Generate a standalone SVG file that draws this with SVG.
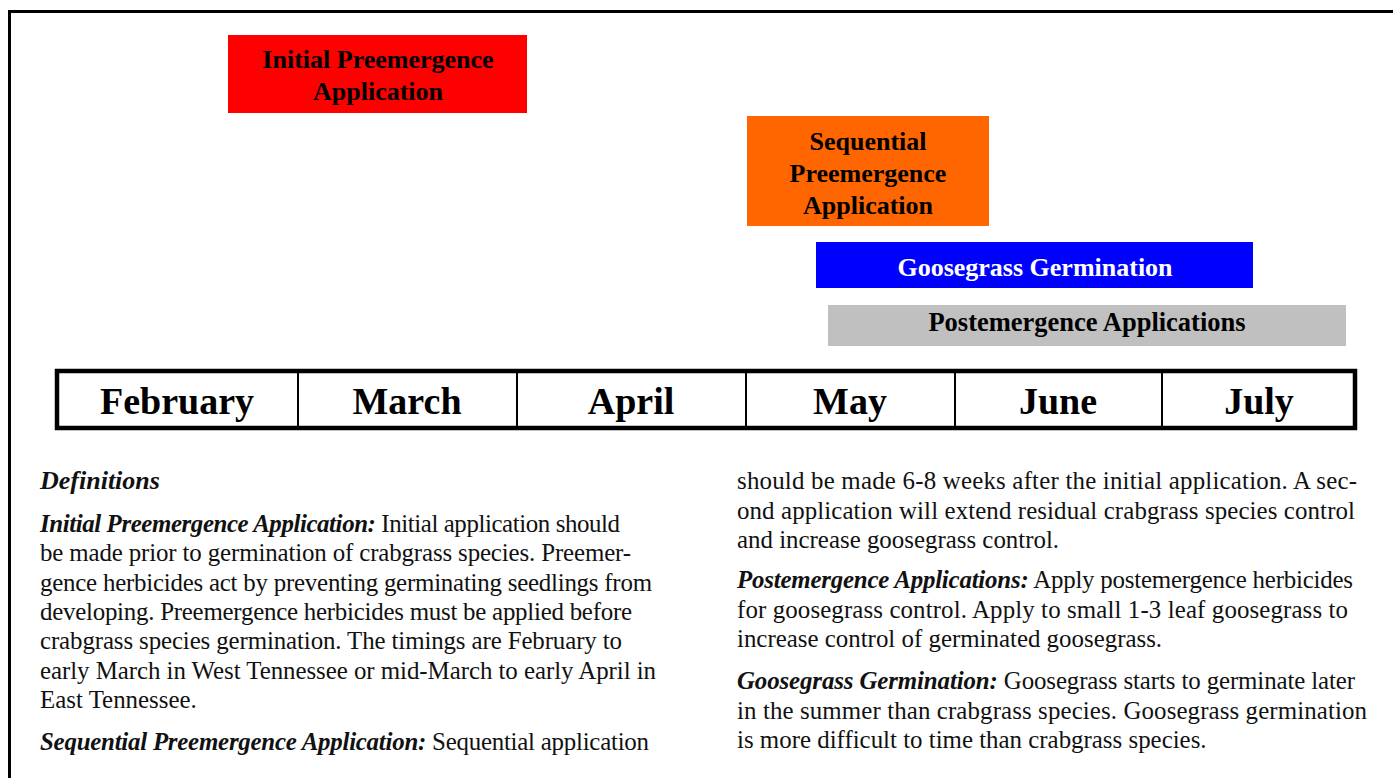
<svg xmlns="http://www.w3.org/2000/svg" width="1393" height="778" viewBox="0 0 1393 778">
<style>
  .bx { font-family: "Liberation Serif", "Times New Roman", serif; font-weight: bold; font-size: 26px; text-anchor: middle; fill: #000; }
  .mo { font-family: "Liberation Serif", "Times New Roman", serif; font-weight: bold; font-size: 38px; text-anchor: middle; fill: #000; }
  .body { font-family: "Liberation Serif", "Times New Roman", serif; font-size: 24.9px; fill: #111; }
  .bi { font-weight: bold; font-style: italic; }
  .div { stroke: #000; stroke-width: 2; }
</style>
<rect x="0" y="0" width="1393" height="778" fill="#fff"/>
<path d="M9.5 778 V11.5 H1393" fill="none" stroke="#000" stroke-width="3"/>

<g id="initial-pre">
  <rect x="228" y="35" width="299" height="78" fill="#FF0000"/>
  <text class="bx" x="378" y="68">Initial Preemergence</text>
  <text class="bx" x="378" y="100">Application</text>
</g>
<g id="sequential-pre">
  <rect x="747" y="116" width="242" height="110" fill="#FF6600"/>
  <text class="bx" x="868" y="150">Sequential</text>
  <text class="bx" x="868" y="182">Preemergence</text>
  <text class="bx" x="868" y="214">Application</text>
</g>
<g id="goosegrass">
  <rect x="816" y="242" width="437" height="46" fill="#0000FF"/>
  <text class="bx" x="1035" y="276" style="fill:#fff">Goosegrass Germination</text>
</g>
<g id="postemergence">
  <rect x="828" y="305" width="518" height="41" fill="#C0C0C0"/>
  <text class="bx" x="1087" y="331" style="font-size:26.5px">Postemergence Applications</text>
</g>

<g id="months">
  <rect x="57" y="371" width="1298" height="57" fill="#fff" stroke="#000" stroke-width="4.5"/>
  <line class="div" x1="298" y1="371" x2="298" y2="428"/>
  <line class="div" x1="517" y1="371" x2="517" y2="428"/>
  <line class="div" x1="746" y1="371" x2="746" y2="428"/>
  <line class="div" x1="955" y1="371" x2="955" y2="428"/>
  <line class="div" x1="1162" y1="371" x2="1162" y2="428"/>
  <text class="mo" x="177" y="414">February</text>
  <text class="mo" x="407" y="414">March</text>
  <text class="mo" x="631" y="414">April</text>
  <text class="mo" x="850" y="414">May</text>
  <text class="mo" x="1058" y="414">June</text>
  <text class="mo" x="1259" y="414">July</text>
</g>

<g id="definitions-left" class="body">
  <text x="40" y="489" class="bi" style="font-size:26px">Definitions</text>
  <text x="40" y="532" textLength="580" lengthAdjust="spacing"><tspan class="bi">Initial Preemergence Application:</tspan> Initial application should</text>
  <text x="40" y="561.3" textLength="591" lengthAdjust="spacing">be made prior to germination of crabgrass species. Preemer-</text>
  <text x="40" y="590.6" textLength="612" lengthAdjust="spacing">gence herbicides act by preventing germinating seedlings from</text>
  <text x="40" y="620" textLength="592" lengthAdjust="spacing">developing. Preemergence herbicides must be applied before</text>
  <text x="40" y="649.2" textLength="582" lengthAdjust="spacing">crabgrass species germination. The timings are February to</text>
  <text x="40" y="678.5" textLength="616" lengthAdjust="spacing">early March in West Tennessee or mid-March to early April in</text>
  <text x="40" y="708">East Tennessee.</text>
  <text x="40" y="750" textLength="609" lengthAdjust="spacing"><tspan class="bi">Sequential Preemergence Application:</tspan> Sequential application</text>
</g>

<g id="definitions-right" class="body">
  <text x="737" y="489" textLength="620" lengthAdjust="spacing">should be made 6-8 weeks after the initial application. A sec-</text>
  <text x="737" y="518.5" textLength="618" lengthAdjust="spacing">ond application will extend residual crabgrass species control</text>
  <text x="737" y="548">and increase goosegrass control.</text>
  <text x="737" y="588" textLength="616" lengthAdjust="spacing"><tspan class="bi">Postemergence Applications:</tspan> Apply postemergence herbicides</text>
  <text x="737" y="617.5" textLength="611" lengthAdjust="spacing">for goosegrass control. Apply to small 1-3 leaf goosegrass to</text>
  <text x="737" y="647">increase control of germinated goosegrass.</text>
  <text x="737" y="689" textLength="618" lengthAdjust="spacing"><tspan class="bi">Goosegrass Germination:</tspan> Goosegrass starts to germinate later</text>
  <text x="737" y="718.5" textLength="630" lengthAdjust="spacing">in the summer than crabgrass species. Goosegrass germination</text>
  <text x="737" y="748">is more difficult to time than crabgrass species.</text>
</g>
</svg>
